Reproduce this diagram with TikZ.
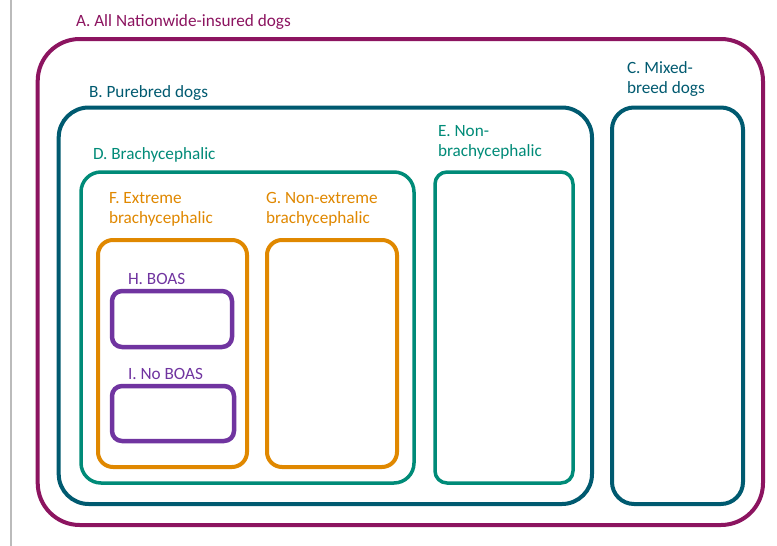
\documentclass[tikz,border=0pt]{standalone}
\usepackage{fontspec}
\setmainfont{Carlito}
\definecolor{cA}{HTML}{8C1460}
\definecolor{cB}{HTML}{005A70}
\definecolor{cD}{HTML}{008B78}
\definecolor{cF}{HTML}{E08800}
\definecolor{cH}{HTML}{7034A0}
\definecolor{cgray}{HTML}{BBBBBB}
\begin{document}
\begin{tikzpicture}[x=1pt,y=-1pt,
  box/.style={draw, inner sep=0pt, outer sep=0pt, line width=4pt},
  lbl/.style={inner sep=0pt, outer sep=0pt, anchor=base west, font=\fontsize{17.2}{19.7}\selectfont, align=left}]
\useasboundingbox (0,0) rectangle (777,546);
\fill[white] (0,0) rectangle (777,546);
\coordinate (gtop) at (11,0);
\coordinate (gbot) at (11,546);
\draw[cgray, line width=1.5pt] (gtop) -- (gbot);
% boxes
\node[box, draw=cA, rounded corners=42pt, minimum width=725.3pt, minimum height=486pt] (A) at (400.35,282) {};
\node[box, draw=cB, rounded corners=30pt, minimum width=533.3pt, minimum height=396.5pt] (B) at (325.35,305.75) {};
\node[box, draw=cB, rounded corners=22pt, minimum width=131pt, minimum height=396.5pt] (C) at (677.5,305.75) {};
\node[box, draw=cD, line width=3.5pt, rounded corners=20pt, minimum width=333pt, minimum height=311pt] (D) at (247.5,327.5) {};
\node[box, draw=cD, line width=3.5pt, rounded corners=12pt, minimum width=138pt, minimum height=311pt] (E) at (504,327.5) {};
\node[box, draw=cF, rounded corners=15pt, minimum width=149pt, minimum height=227pt] (F) at (172.5,353.5) {};
\node[box, draw=cF, rounded corners=15pt, minimum width=130pt, minimum height=227pt] (G) at (332,353.5) {};
\node[box, draw=cH, line width=4.5pt, rounded corners=10pt, minimum width=120pt, minimum height=56pt] (H) at (172,319) {};
\node[box, draw=cH, line width=4.5pt, rounded corners=10pt, minimum width=122pt, minimum height=55pt] (I) at (173,413.5) {};
% labels
\node[lbl, text=cA] (tA) at (76,27) {A. All Nationwide-insured dogs};
\node[lbl, text=cB] (tB) at (89,97.5) {B. Purebred dogs};
\node[lbl, text=cB] (tC) at (627,93) {C. Mixed-\\breed dogs};
\node[lbl, text=cD] (tD) at (93,159) {D. Brachycephalic};
\node[lbl, text=cD] (tE) at (438,156) {E. Non-\\brachycephalic};
\node[lbl, text=cF] (tF) at (109,223) {F. Extreme\\brachycephalic};
\node[lbl, text=cF] (tG) at (266,223) {G. Non-extreme\\brachycephalic};
\node[lbl, text=cH] (tH) at (128,284) {H. BOAS};
\node[lbl, text=cH] (tI) at (128,379) {I. No BOAS};
\end{tikzpicture}
\end{document}
